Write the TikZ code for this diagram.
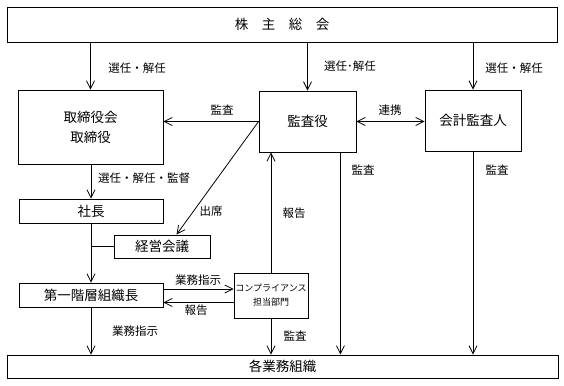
\documentclass[tikz,border=0pt]{standalone}
\usepackage{fontspec}
\setmainfont{Noto Sans CJK JP}
\usetikzlibrary{arrows.meta}
\tikzset{
  orgbox/.style   = {draw,line width=0.9pt,inner sep=0pt,align=center,font=\fontsize{13.5}{16}\selectfont},
  linkarr/.style  = {-{Straight Barb[length=8pt,width=8pt]},line width=0.8pt},
  linkboth/.style = {{Straight Barb[length=8pt,width=8pt]}-{Straight Barb[length=8pt,width=8pt]},line width=0.8pt},
  linkline/.style = {line width=0.8pt},
  lbl/.style      = {inner sep=0pt,font=\fontsize{11.5}{13}\selectfont}
}
\newcommand{\orgunit}[6]{%
  \node[orgbox,minimum width=#4pt,minimum height=#5pt] (#1) at (#2,#3) {#6};
}

\begin{document}
\begin{tikzpicture}[x=1pt,y=-1pt]
  \useasboundingbox (0,0) rectangle (564,385);
  \orgunit{kabunushi}{282}{24.5}{550}{35}{株　主　総　会}
  \orgunit{torishimari}{90.5}{127}{145}{74}{取締役会\\[4pt]取締役}
  \orgunit{kansa}{307.5}{121.5}{97}{61}{監査役}
  \orgunit{kaikei}{473}{120.5}{96}{61}{会計監査人}
  \orgunit{shacho}{91}{211}{144}{24}{社長}
  \orgunit{keiei}{162}{246.5}{96}{23}{経営会議}
  \orgunit{daiichi}{91}{295}{144}{24}{第一階層組織長}
  \node[orgbox,minimum width=74pt,minimum height=45pt,font=\fontsize{9}{14}\selectfont]
    (comp) at (271,295.5) {コンプライアンス\\担当部門};
  \orgunit{gyomu}{282.5}{366.5}{551}{23}{各業務組織}
  % 株主総会から
  \draw[linkarr] (kabunushi.south -| torishimari.north) -- (torishimari.north);
  \draw[linkarr] (kabunushi.south -| kansa.north) -- (kansa.north);
  \draw[linkarr] (kabunushi.south -| kaikei.north) -- (kaikei.north);
  \node[lbl] (senA) at (137,68) {選任・解任};
  \node[lbl] (senB) at (350,66) {選任･解任};
  \node[lbl] (senC) at (514,68) {選任・解任};
  % 監査役まわり
  \draw[linkarr]  (kansa.west) -- (kansa.west -| torishimari.east);
  \draw[linkboth] (kansa.east) -- (kansa.east -| kaikei.west);
  \draw[linkarr]  (kansa.west) -- ([xshift=63pt]keiei.north west);
  \node[lbl] (kansaA) at (222,110) {監査};
  \node[lbl] (renkei) at (390,110) {連携};
  \node[lbl] (shusseki) at (211,211) {出席};
  % 執行側
  \draw[linkarr]  (torishimari.south -| shacho.north) -- (shacho.north);
  \node[lbl] (senD) at (144,178) {選任・解任・監督};
  \draw[linkarr]  (shacho.south) -- (daiichi.north);
  \draw[linkline] (keiei.west) -- (keiei.west -| shacho.south);
  \draw[linkarr]  ([yshift=6pt]daiichi.east) -- ([yshift=6pt]daiichi.east -| comp.west);
  \draw[linkarr]  ([yshift=-7pt]comp.west) -- ([yshift=-7pt]comp.west -| daiichi.east);
  \node[lbl] (shijiA) at (198,280) {業務指示};
  \node[lbl] (hokokuA) at (196,310) {報告};
  \draw[linkarr]  (daiichi.south) -- (daiichi.south |- gyomu.north);
  \node[lbl] (shijiB) at (135,331) {業務指示};
  \draw[linkarr]  (comp.south) -- (comp.south |- gyomu.north);
  \node[lbl] (kansaB) at (295,336) {監査};
  \draw[linkarr]  (comp.north) -- (comp.north |- kansa.south);
  \node[lbl] (hokokuB) at (294,213) {報告};
  % 各業務組織へ
  \draw[linkarr]  ([xshift=-16pt]kansa.south east) -- ([xshift=-16pt]kansa.south east |- gyomu.north);
  \node[lbl] (kansaC) at (363,170) {監査};
  \draw[linkarr]  (kaikei.south) -- (kaikei.south |- gyomu.north);
  \node[lbl] (kansaD) at (497,170) {監査};
\end{tikzpicture}
\end{document}
